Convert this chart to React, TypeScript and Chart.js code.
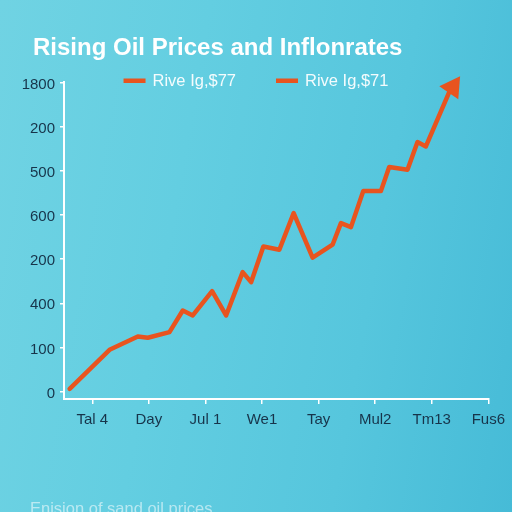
import React, { useEffect, useRef } from "react";
import { Chart, registerables } from "chart.js";

Chart.register(...registerables);

const FONT = '"Liberation Sans", Arial, Helvetica, sans-serif';

const titleText = "Rising Oil Prices and Inflonrates";
const footerText = "Enision of sand oil prices";
const seriesLabels = ["Rive Ig,$77", "Rive Ig,$71"];
const lineColor = "#e8541f";
const tickColor = "#17344a";

const xTickValues = [0, 1, 2, 3, 4, 5, 6, 7];
const xTickLabels = ["Tal 4", "Day", "Jul 1", "We1", "Tay", "Mul2", "Tm13", "Fus6"];

const yTickValues = [0, 1, 2, 3, 4, 5, 6, 7];
const yTickLabels = ["0", "100", "400", "200", "600", "500", "200", "1800"];

const priceX = [
  -0.4, 0.305, 0.805, 0.981, 1.364, 1.599, 1.776, 2.118, 2.365, 2.658, 2.807, 3.024, 3.306,
  3.559, 3.894, 4.247, 4.395, 4.572, 4.789, 5.101, 5.248, 5.571, 5.748, 5.896, 6.307, 6.501,
];
const priceY = [
  0.06, 0.946, 1.248, 1.219, 1.346, 1.838, 1.725, 2.276, 1.725, 2.707, 2.48, 3.29, 3.215,
  4.046, 3.034, 3.329, 3.819, 3.728, 4.545, 4.545, 5.09, 5.031, 5.657, 5.559, 6.785, 7.148,
];

const overlayPlugin = {
  id: "overlay",
  afterDatasetsDraw(chart: any) {
    const ctx = chart.ctx;
    const meta = chart.getDatasetMeta(0);
    const pts = meta.data;
    const n = pts.length;
    if (n < 2) return;
    const a = pts[n - 2];
    const b = pts[n - 1];
    const dx = b.x - a.x;
    const dy = b.y - a.y;
    const len = Math.hypot(dx, dy) || 1;
    const ux = dx / len;
    const uy = dy / len;
    const L = 20;
    const W = 11.5;
    const bx = b.x - ux * L;
    const by = b.y - uy * L;
    ctx.save();
    ctx.fillStyle = lineColor;
    ctx.beginPath();
    ctx.moveTo(b.x, b.y);
    ctx.lineTo(bx - uy * W, by + ux * W);
    ctx.lineTo(bx + uy * W, by - ux * W);
    ctx.closePath();
    ctx.fill();
    ctx.restore();
  },
  afterDraw(chart: any) {
    const ctx = chart.ctx;
    ctx.save();
    ctx.textAlign = "left";
    ctx.textBaseline = "alphabetic";
    // title
    ctx.font = `bold 24px ${FONT}`;
    ctx.fillStyle = "#ffffff";
    ctx.fillText(titleText, 33, 55);
    // legend
    ctx.font = `16.5px ${FONT}`;
    const boxW = 22;
    const gapBox = 7;
    const gapItem = 40;
    const widths = chart.data.datasets.map(
      (ds: any) => boxW + gapBox + ctx.measureText(ds.label).width
    );
    const total =
      widths.reduce((s: number, w: number) => s + w, 0) + gapItem * (widths.length - 1);
    let x = chart.width / 2 - total / 2;
    chart.data.datasets.forEach((ds: any, i: number) => {
      ctx.fillStyle = ds.borderColor;
      ctx.fillRect(x, 78.5, boxW, 4.5);
      ctx.fillStyle = "rgba(255,255,255,0.93)";
      ctx.fillText(ds.label, x + boxW + gapBox, 86);
      x += widths[i] + gapItem;
    });
    // footer
    ctx.font = `16.5px ${FONT}`;
    ctx.fillStyle = "rgba(255,255,255,0.55)";
    ctx.fillText(footerText, 30, 513.5);
    ctx.restore();
  },
};

export default function App() {
  const canvasRef = useRef<HTMLCanvasElement | null>(null);

  useEffect(() => {
    const canvas = canvasRef.current;
    if (!canvas) return;
    const points = priceX.map((x, i) => ({ x, y: priceY[i] }));
    const lastIdx = priceX.length - 1;
    const chart = new Chart(canvas, {
      type: "line",
      data: {
        datasets: [
          {
            label: seriesLabels[0],
            data: points,
            borderColor: lineColor,
            backgroundColor: lineColor,
            borderWidth: 4.5,
            pointRadius: 0,
            tension: 0,
            clip: false as any,
            borderJoinStyle: "round",
            borderCapStyle: "round",
            segment: {
              borderColor: (c: any) => (c.p1DataIndex === lastIdx ? "rgba(0,0,0,0)" : undefined),
            },
          },
          {
            label: seriesLabels[1],
            data: [],
            borderColor: lineColor,
            backgroundColor: lineColor,
            borderWidth: 4.5,
            pointRadius: 0,
          },
        ],
      },
      options: {
        animation: false,
        responsive: false,
        events: [],
        layout: { padding: { top: 82, right: 22, left: 0, bottom: 0 } },
        plugins: {
          legend: { display: false },
          title: { display: false },
          tooltip: { enabled: false },
        },
        scales: {
          x: {
            type: "linear",
            min: -0.5,
            max: 7,
            afterBuildTicks: (s: any) => {
              s.ticks = xTickValues.map((v) => ({ value: v }));
            },
            afterFit: (s: any) => {
              s.height = 113;
            },
            ticks: {
              autoSkip: false,
              maxRotation: 0,
              color: tickColor,
              font: { family: FONT, size: 15 },
              padding: 7,
              callback: (_v: any, i: number) => xTickLabels[i] ?? "",
            },
            grid: {
              drawOnChartArea: false,
              drawTicks: true,
              tickLength: 5,
              color: "#ffffff",
              lineWidth: 1.5,
            },
            border: { display: true, color: "#ffffff", width: 2 },
          },
          y: {
            type: "linear",
            min: -0.17,
            max: 7.02,
            afterBuildTicks: (s: any) => {
              s.ticks = yTickValues.map((v) => ({ value: v }));
            },
            afterFit: (s: any) => {
              s.width = 64;
            },
            ticks: {
              autoSkip: false,
              color: tickColor,
              font: { family: FONT, size: 15 },
              padding: 5,
              labelOffset: 2,
              callback: (_v: any, i: number) => yTickLabels[i] ?? "",
            },
            grid: {
              drawOnChartArea: false,
              drawTicks: true,
              tickLength: 4,
              color: "#ffffff",
              lineWidth: 1.5,
            },
            border: { display: true, color: "#ffffff", width: 2 },
          },
        },
      },
      plugins: [overlayPlugin],
    });
    return () => chart.destroy();
  }, []);

  return (
    <div
      style={{
        position: "fixed",
        left: 0,
        top: 0,
        width: 512,
        height: 512,
        overflow: "hidden",
        background:
          "linear-gradient(100deg, #70d3e3 0%, #63cee1 35%, #56c6dd 70%, #46bbd7 100%)",
      }}
    >
      <canvas ref={canvasRef} width={512} height={512} style={{ display: "block" }} />
    </div>
  );
}
